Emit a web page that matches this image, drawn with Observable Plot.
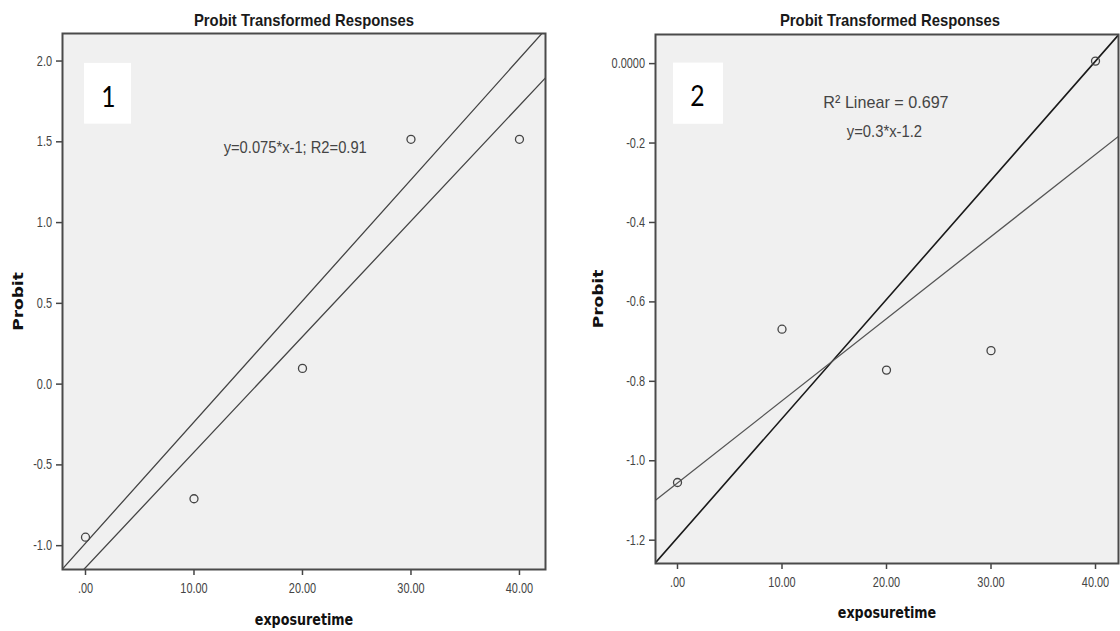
<!DOCTYPE html>
<html><head><meta charset="utf-8">
<script src="https://cdn.jsdelivr.net/npm/d3@7"></script>
<script src="https://cdn.jsdelivr.net/npm/@observablehq/plot@0.6"></script>
<style>
html,body{margin:0;padding:0;background:#fff;width:1120px;height:631px;overflow:hidden;}
#row{display:flex;width:1120px;height:631px;}
#row svg{display:block;flex:none;}
</style></head><body><div id="row"></div>
<script>
// ---------- data ----------
const exposureTime = [0, 10, 20, 30, 40];
const probit1 = [-0.963, -0.725, 0.082, 1.5, 1.5];
const probit2 = [-1.061, -0.675, -0.778, -0.729, 0.0];
const refLine1 = {slope: 0.075, intercept: -1.0};
const refLine2 = {slope: 0.03, intercept: -1.2};
const xTicks = [0, 10, 20, 30, 40];
const xTickLabels = [".00", "10.00", "20.00", "30.00", "40.00"];
const yTicks1 = [-1.0, -0.5, 0, 0.5, 1.0, 1.5, 2.0];
const yTickLabels1 = ["-1.0", "-0.5", "0.0", "0.5", "1.0", "1.5", "2.0"];
const yTicks2 = [-1.2, -1.0, -0.8, -0.6, -0.4, -0.2, 0];
const yTickLabels2 = ["-1.2", "-1.0", "-0.8", "-0.6", "-0.4", "-0.2", "0.0000"];
const panelNumbers = ["1", "2"];
const titleText = "Probit Transformed Responses";
const xLabel = "exposuretime";
const yLabel = "Probit";
const annotations1 = ["y=0.075*x-1; R2=0.91"];
const annotations2 = ["R\u00B2 Linear = 0.697", "y=0.3*x-1.2"];

// ---------- layout (positions / styles) ----------
const layouts = [
  {values: probit1, ref: refLine1, yTicks: yTicks1, yTickLabels: yTickLabels1, number: panelNumbers[0],
   annotations: annotations1,
   marginLeft: 62, marginRight: 15, marginTop: 33, marginBottom: 62,
   xDomain: [-2.12, 42.4], yDomain: [-1.163, 2.155],
   box: {x1: -0.09, x2: 4.24, y1: 1.594, y2: 1.97}, numberAt: {x: 2.12, y: 1.70},
   annotAt: [{x: 19.33, y: 1.413, size: 16, sx: 0.92}],
   refStroke: "#444", refWidth: 1.3, fitStroke: "#444", fitWidth: 1.3,
   titleDy: -8, titleDx: 0, xlabelDy: 55, ylabelDx: -44},
  {values: probit2, ref: refLine2, yTicks: yTicks2, yTickLabels: yTickLabels2, number: panelNumbers[1],
   annotations: annotations2,
   marginLeft: 95, marginRight: 2, marginTop: 34, marginBottom: 68,
   xDomain: [-2.105, 42.2], yDomain: [-1.265, 0.067],
   box: {x1: -0.38, x2: 4.40, y1: -0.159, y2: -0.005}, numberAt: {x: 1.91, y: -0.113},
   annotAt: [{x: 19.95, y: -0.119, size: 17, sx: 0.95}, {x: 19.8, y: -0.191, size: 17, sx: 0.87}],
   refStroke: "#1a1a1a", refWidth: 1.6, fitStroke: "#555", fitWidth: 1.3,
   titleDy: -9, titleDx: 3, xlabelDy: 54, ylabelDx: -57}
];

function fit(xs, ys) {
  const mx = d3.mean(xs), my = d3.mean(ys);
  let sxy = 0, sxx = 0;
  xs.forEach((x, i) => { sxy += (x - mx) * (ys[i] - my); sxx += (x - mx) ** 2; });
  const slope = sxy / sxx;
  return {slope, intercept: my - slope * mx};
}

// compress text glyphs horizontally (the reference is a squeezed screenshot)
function squeeze(svg, labels, sx, sy = 1, fontSize = null) {
  const set = new Set(labels);
  svg.querySelectorAll("text").forEach(t => {
    if (!set.has(t.textContent)) return;
    if (fontSize) t.style.fontSize = fontSize + "px";
    for (const [a, s] of [["x", sx], ["y", sy]]) {
      const v = t.getAttribute(a);
      if (v !== null && /^-?[\d.]+$/.test(v)) t.setAttribute(a, (+v) / s);
    }
    t.setAttribute("transform", (t.getAttribute("transform") || "") + ` scale(${sx},${sy})`);
  });
}

const sans = "'Liberation Sans', Arial, sans-serif";
const boldSans = "'DejaVu Sans', Verdana, sans-serif";

layouts.forEach((L, p) => {
  const pts = exposureTime.map((x, i) => ({x, y: L.values[i]}));
  const f = fit(exposureTime, L.values);
  const lineOf = c => L.xDomain.map(x => ({x, y: c.slope * x + c.intercept}));
  const marks = [
    Plot.frame({fill: "#f0f0f0"}),
    Plot.rect([L.box], {x1: "x1", x2: "x2", y1: "y1", y2: "y2", fill: "#ffffff"}),
    Plot.text([L.number], {x: () => L.numberAt.x, y: () => L.numberAt.y, text: d => d, fontSize: 29,
      fontFamily: "Lato, 'Open Sans', sans-serif", fill: "#000", lineAnchor: "bottom"}),
    Plot.line(lineOf(L.ref), {x: "x", y: "y", stroke: L.refStroke, strokeWidth: L.refWidth, clip: true}),
    Plot.line(lineOf(f), {x: "x", y: "y", stroke: L.fitStroke, strokeWidth: L.fitWidth, clip: true}),
    Plot.dot(pts, {x: "x", y: "y", r: 4, stroke: "#444", strokeWidth: 1.3, fill: "none"}),
    ...L.annotations.map((a, i) => Plot.text([a], {x: () => L.annotAt[i].x, y: () => L.annotAt[i].y, text: d => d,
      fontSize: L.annotAt[i].size, fill: "#444", lineAnchor: "bottom", textAnchor: "middle"})),
    Plot.axisY(L.yTicks, {tickFormat: d => L.yTickLabels[L.yTicks.indexOf(d)], tickSize: 6, tickPadding: 4.5,
      fontSize: 14, color: "#444", strokeWidth: 1.5, label: null, dy: 2.5}),
    Plot.axisX(xTicks, {tickFormat: d => xTickLabels[xTicks.indexOf(d)], tickSize: 6, tickPadding: 8,
      fontSize: 14, color: "#444", strokeWidth: 1.5, label: null}),
    Plot.text([titleText], {frameAnchor: "top", dy: L.titleDy, dx: L.titleDx, text: d => d, lineAnchor: "bottom",
      textAnchor: "middle", fontSize: 16.5, fontWeight: "bold", fill: "#1a1a1a"}),
    Plot.text([xLabel], {frameAnchor: "bottom", dy: L.xlabelDy, text: d => d, lineAnchor: "bottom",
      textAnchor: "middle", fontSize: 16.5, fontWeight: "bold", fontFamily: boldSans, fill: "#111"}),
    Plot.text([yLabel], {frameAnchor: "left", dx: L.ylabelDx, rotate: -90, text: d => d, lineAnchor: "middle",
      textAnchor: "middle", fontSize: 17, fontWeight: "bold", fontFamily: boldSans, fill: "#111"}),
    Plot.frame({stroke: "#4a4a4a", strokeWidth: 2})
  ];
  const svg = Plot.plot({
    width: 560, height: 631,
    marginLeft: L.marginLeft, marginRight: L.marginRight, marginTop: L.marginTop, marginBottom: L.marginBottom,
    x: {domain: L.xDomain},
    y: {domain: L.yDomain},
    style: {background: "transparent", fontFamily: sans, overflow: "visible"},
    marks
  });
  squeeze(svg, L.yTickLabels, 0.78, 1, 14);
  squeeze(svg, xTickLabels, 0.78, 1, 14);
  squeeze(svg, [titleText], 0.9);
  squeeze(svg, [xLabel], 0.77);
  squeeze(svg, [yLabel], 1, 0.78);
  squeeze(svg, [L.number], 0.85);
  L.annotations.forEach((a, i) => squeeze(svg, [a], L.annotAt[i].sx));
  document.getElementById("row").appendChild(svg);
});
</script></body></html>
